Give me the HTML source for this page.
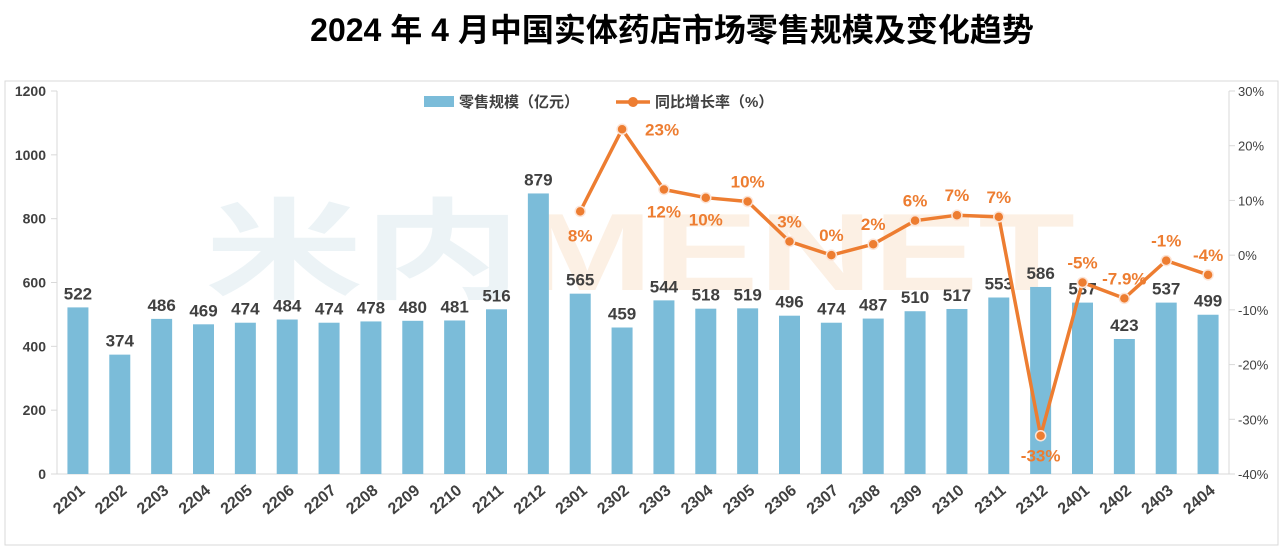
<!DOCTYPE html>
<html><head><meta charset="utf-8"><style>
body{margin:0;background:#fff;width:1282px;height:549px;overflow:hidden;font-family:"Liberation Sans","Noto Sans CJK SC",sans-serif}
</style></head><body>
<svg id="c" width="1282" height="549" style="position:absolute;left:0;top:0">
<text x="672" y="41" text-anchor="middle" font-size="32" font-weight="bold" fill="#000" font-family="Liberation Sans,Noto Sans CJK SC,sans-serif">2024 年 4 月中国实体药店市场零售规模及变化趋势</text>
<rect x="5" y="81" width="1273" height="464" fill="none" stroke="#d9d9d9"/>
<text x="205" y="290" font-size="110" font-weight="bold" opacity="0.35" textLength="870" lengthAdjust="spacingAndGlyphs"><tspan fill="#c9dfe8">米内</tspan><tspan fill="#f8d5b4">MENET</tspan></text>
<g id="g"></g>
</svg>
<script>
const categories=["2201","2202","2203","2204","2205","2206","2207","2208","2209","2210","2211","2212","2301","2302","2303","2304","2305","2306","2307","2308","2309","2310","2311","2312","2401","2402","2403","2404"];
const salesValues=[522,374,486,469,474,484,474,478,480,481,516,879,565,459,544,518,519,496,474,487,510,517,553,586,537,423,537,499];
const growthValues=[null,null,null,null,null,null,null,null,null,null,null,null,8,23,12,10.5,9.8,2.5,0,2,6.3,7.3,7,-33,-5,-7.9,-1,-3.6];
const growthLabels=[null,null,null,null,null,null,null,null,null,null,null,null,"8%","23%","12%","10%","10%","3%","0%","2%","6%","7%","7%","-33%","-5%","-7.9%","-1%","-4%"];
const leftTicks=[0,200,400,600,800,1000,1200];
const rightTicks=[-40,-30,-20,-10,0,10,20,30];
const X0=57,X1=1229,Y0=474,Y1=91,NS="http://www.w3.org/2000/svg";
const g=document.getElementById('g');
const step=(X1-X0)/categories.length;
const xc=i=>X0+step*(i+0.5);
const yL=v=>Y0-(v/1200)*(Y0-Y1);
const yR=v=>Y0-((v+40)/70)*(Y0-Y1);
function el(t,a,txt){const e=document.createElementNS(NS,t);for(const k in a)e.setAttribute(k,a[k]);if(txt!=null)e.textContent=txt;g.appendChild(e);return e;}
let e;
e=el('line',{x1:X0,y1:Y1,x2:X0,y2:Y0,stroke:'#d9d9d9'});


e=el('line',{x1:X1,y1:Y1,x2:X1,y2:Y0,stroke:'#d9d9d9'});


e=el('line',{x1:X0,y1:Y0,x2:X1,y2:Y0,stroke:'#d9d9d9'});


leftTicks.forEach(v=>{el('line',{x1:X0-6,y1:yL(v),x2:X0,y2:yL(v),stroke:'#d9d9d9'});
e=el('text',{x:46,y:yL(v)+5,'text-anchor':'end','font-size':14,'font-weight':'bold',fill:'#404040'},v);

});
rightTicks.forEach(v=>{el('line',{x1:X1,y1:yR(v),x2:X1+6,y2:yR(v),stroke:'#d9d9d9'});
e=el('text',{x:1238,y:yR(v)+5,'font-size':13,fill:'#404040'},v+'%');

});
categories.forEach((c,i)=>{
e=el('rect',{x:xc(i)-10.5,y:yL(salesValues[i]),width:21,height:Y0-yL(salesValues[i]),fill:'#7bbcd9'});


e=el('text',{x:xc(i),y:yL(salesValues[i])-8,'text-anchor':'middle','font-size':17,'font-weight':'bold',fill:'#404040'},salesValues[i]);


e=el('text',{x:xc(i)+8,y:492,'text-anchor':'end','font-size':16,'font-weight':'bold',fill:'#404040',transform:`rotate(-40 ${xc(i)+8} 492)`},c);


});
let pts=[];growthValues.forEach((v,i)=>{if(v!=null)pts.push([xc(i),yR(v),i]);});
e=el('polyline',{points:pts.map(p=>p[0]+','+p[1]).join(' '),fill:'none',stroke:'#ed7d31','stroke-width':3.5,'stroke-linejoin':'round'});


pts.forEach(p=>{
e=el('circle',{cx:p[0],cy:p[1],r:5,fill:'#ed7d31',stroke:'#fce4d6','stroke-width':1.5});


const i=p[2],v=growthValues[i];
let lx=p[0],ly=(v<-20)?p[1]+26:(i===12?p[1]+30:p[1]-14);
if(i===14||i===15)ly=p[1]+28;
if(i===13){lx=p[0]+40;ly=p[1]+6;}
e=el('text',{x:lx,y:ly,'text-anchor':'middle','font-size':17,'font-weight':'bold',fill:'#ed7d31'},growthLabels[i]);


});
e=el('rect',{x:424,y:96,width:30,height:11,fill:'#7bbcd9'});


e=el('text',{x:459,y:107,'font-size':15,'font-weight':'bold',fill:'#404040'},'零售规模（亿元）');


e=el('line',{x1:616,y1:102,x2:650,y2:102,stroke:'#ed7d31','stroke-width':3.5});


el('circle',{cx:633,cy:102,r:5,fill:'#ed7d31'});
e=el('text',{x:655,y:107,'font-size':15,'font-weight':'bold',fill:'#404040'},'同比增长率（%）');


</script>
</body></html>
